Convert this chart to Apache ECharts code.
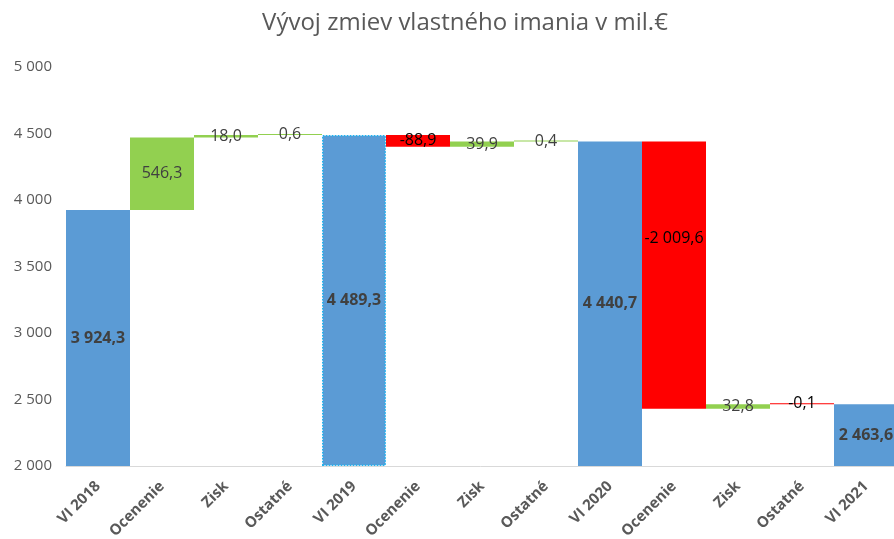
<!DOCTYPE html>
<html><head><meta charset="utf-8">
<script src="https://cdn.jsdelivr.net/npm/echarts@6/dist/echarts.min.js"></script>
<style>html,body{margin:0;padding:0;background:#fff}#c{width:894px;height:539px}</style>
</head><body><div id="c"></div>
<script>
const categories = ['VI 2018','Ocenenie','Zisk','Ostatné','VI 2019','Ocenenie','Zisk','Ostatné','VI 2020','Ocenenie','Zisk','Ostatné','VI 2021'];
const values = [3924.3, 546.3, 18.0, 0.6, 4489.3, -88.9, 39.9, 0.4, 4440.7, -2009.6, 32.8, -0.1, 2463.6];
const isTotal = [1,0,0,0,1,0,0,0,1,0,0,0,1];
const yMin = 2000, yMax = 5000, yStep = 500;

const AXIS_MIN = yMin;
function fmt(v){
  const neg = v < 0;
  let s = Math.abs(v).toFixed(1).split('.');
  let i = s[0].replace(/\B(?=(\d{3})+(?!\d))/g, ' ');
  return (neg ? '-' : '') + i + ',' + s[1];
}
const base = [], vis = [];
let run = 0;
values.forEach((v, k) => {
  if (isTotal[k]) {
    run = v;
    base.push(AXIS_MIN);
    vis.push({value: v - AXIS_MIN, raw: v, k});
  } else {
    const s = run, e = run + v;
    base.push(Math.min(s, e));
    vis.push({value: Math.abs(v), raw: v, k});
    run = e;
  }
});
const BLUE = '#5B9BD5', GREEN = '#92D050', RED = '#FF0000';
const visData = vis.map(d => {
  const tot = isTotal[d.k];
  const color = tot ? BLUE : (d.raw >= 0 ? GREEN : RED);
  const item = {
    value: d.value,
    itemStyle: {color: color},
    label: {
      show: true,
      position: 'inside',
      formatter: fmt(d.raw),
      fontWeight: tot ? 'bold' : 'normal',
      color: tot ? '#404040' : (d.raw >= 0 ? '#404040' : '#000000')
    }
  };
  if (d.k === 4) {
    item.itemStyle.borderColor = '#1EB4F0';
    item.itemStyle.borderWidth = 1.5;
    item.itemStyle.borderType = 'dotted';
  }
  if (!tot && Math.abs(d.raw) > 1000) {
    item.label.offset = [0, -37];
  }
  return item;
});

const chart = echarts.init(document.getElementById('c'), null, {renderer: 'canvas'});
chart.setOption({
  animation: false,
  backgroundColor: '#fff',
  textStyle: {fontFamily: 'Open Sans'},
  title: {
    text: 'Vývoj zmiev vlastného imania v mil.€',
    left: 460, top: 6, textAlign: 'center',
    textStyle: {fontSize: 24, fontWeight: 'normal', color: '#595959', fontFamily: 'Open Sans'}
  },
  grid: {left: 66, right: -4, top: 67, bottom: 73, containLabel: false, outerBoundsMode: 'none'},
  xAxis: {
    type: 'category', data: categories,
    axisLine: {lineStyle: {color: '#D9D9D9', width: 1}},
    axisTick: {show: false},
    axisLabel: {rotate: 45, interval: 0, fontWeight: 'bold', color: '#595959', fontSize: 15, margin: 18, fontFamily: 'Open Sans'}
  },
  yAxis: {
    type: 'value', min: yMin, max: yMax, interval: yStep,
    splitLine: {show: false},
    axisLine: {show: false}, axisTick: {show: false},
    axisLabel: {color: '#595959', fontSize: 15, margin: 14, fontFamily: 'Open Sans',
      formatter: v => String(v).replace(/\B(?=(\d{3})+(?!\d))/g, ' ')}
  },
  series: [
    {type: 'bar', stack: 'w', data: base, itemStyle: {color: 'transparent'}, barCategoryGap: '0%', silent: true},
    {type: 'bar', stack: 'w', data: visData, barCategoryGap: '0%', barMinHeight: 1,
     label: {fontSize: 16, fontFamily: 'Open Sans'}}
  ]
});
</script></body></html>
